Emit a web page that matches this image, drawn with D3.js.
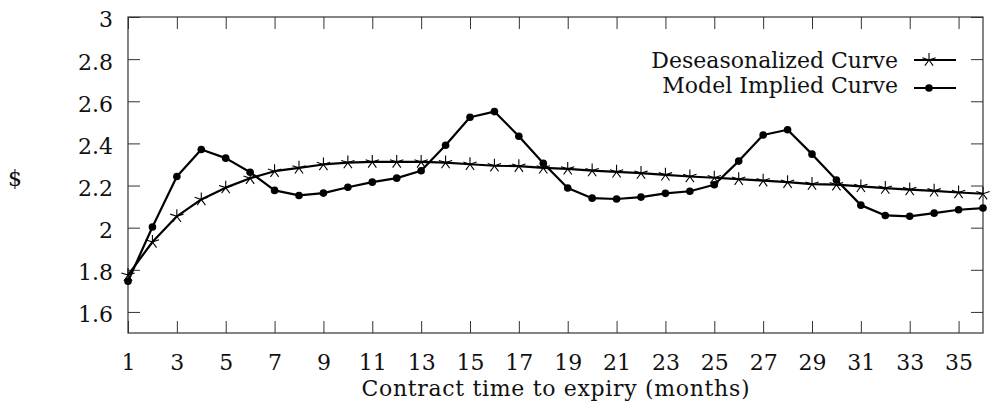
<!DOCTYPE html>
<html>
<head>
<meta charset="utf-8">
<script src="https://cdn.jsdelivr.net/npm/d3@7"></script>
<style>
  body { margin: 0; background: #fff; }
  svg text { font-family: "DejaVu Serif", serif; fill: #111; }
</style>
</head>
<body>
<div id="chart"></div>
<script>
// months 1..36
const months = d3.range(1, 37);

const deseasonalized = [
  1.775, 1.932, 2.054, 2.134, 2.190, 2.235, 2.268, 2.284, 2.300, 2.309,
  2.312, 2.312, 2.312, 2.309, 2.301, 2.294, 2.292, 2.284, 2.279, 2.271,
  2.265, 2.259, 2.251, 2.243, 2.237, 2.230, 2.223, 2.216, 2.207, 2.204,
  2.196, 2.188, 2.181, 2.175, 2.167, 2.161
];

const modelImplied = [
  1.746, 2.003, 2.243, 2.371, 2.330, 2.263, 2.177, 2.153, 2.164, 2.192,
  2.216, 2.235, 2.270, 2.391, 2.524, 2.551, 2.434, 2.306, 2.188, 2.140,
  2.136, 2.145, 2.163, 2.173, 2.204, 2.316, 2.440, 2.465, 2.349, 2.226,
  2.107, 2.058, 2.054, 2.069, 2.085, 2.093
];

const xTicks = d3.range(1, 36, 2);
const yTicks = [1.6, 1.8, 2.0, 2.2, 2.4, 2.6, 2.8, 3.0];
const seriesNames = ['Deseasonalized Curve', 'Model Implied Curve'];

const config = {
  width: 992,
  height: 407,
  plot: { left: 128, right: 983, top: 17, bottom: 333 },
  tickLen: 12,
  fontSize: 22,
  font: '"DejaVu Serif", serif',
};

const svg = d3.select('#chart').append('svg')
  .attr('width', config.width)
  .attr('height', config.height);

const x = d3.scaleLinear().domain([1, 36]).range([config.plot.left, config.plot.right]);
const y = d3.scaleLinear().domain([1.5, 3.0]).range([config.plot.bottom, config.plot.top]);

function styleAxis(g) {
  g.attr('font-family', null).attr('font-size', null);
  g.select('.domain').remove();
  g.selectAll('.tick line').attr('stroke', '#333').attr('stroke-width', 1);
}

function styleLabels(sel) {
  sel.style('font-size', config.fontSize + 'px')
    .style('font-family', config.font)
    .attr('fill', '#111');
}

// bottom axis with labels
const xAxisG = svg.append('g')
  .attr('transform', `translate(0,${config.plot.bottom})`)
  .call(d3.axisBottom(x).tickValues(xTicks).tickSizeInner(-config.tickLen).tickSizeOuter(0).tickFormat(d3.format('d')))
  .call(styleAxis);
xAxisG.selectAll('text')
  .attr('y', 37).attr('dy', 0)
  .call(styleLabels);

// top mirror ticks
svg.append('g')
  .attr('transform', `translate(0,${config.plot.top})`)
  .call(d3.axisTop(x).tickValues(xTicks).tickSizeInner(-config.tickLen).tickSizeOuter(0).tickFormat(''))
  .call(styleAxis);

// left axis with labels
const yAxisG = svg.append('g')
  .attr('transform', `translate(${config.plot.left},0)`)
  .call(d3.axisLeft(y).tickValues(yTicks).tickSizeInner(-config.tickLen).tickSizeOuter(0)
    .tickFormat(d => String(+d.toFixed(1))))
  .call(styleAxis);
yAxisG.selectAll('text')
  .attr('x', -15).attr('dy', '0.45em')
  .call(styleLabels);

// right mirror ticks
svg.append('g')
  .attr('transform', `translate(${config.plot.right},0)`)
  .call(d3.axisRight(y).tickValues(yTicks).tickSizeInner(-config.tickLen).tickSizeOuter(0).tickFormat(''))
  .call(styleAxis);

// frame
svg.append('rect')
  .attr('x', config.plot.left)
  .attr('y', config.plot.top)
  .attr('width', config.plot.right - config.plot.left)
  .attr('height', config.plot.bottom - config.plot.top)
  .attr('fill', 'none')
  .attr('stroke', '#333')
  .attr('stroke-width', 1.2);

// axis titles
svg.append('text')
  .attr('x', (config.plot.left + config.plot.right) / 2)
  .attr('y', 396)
  .attr('text-anchor', 'middle')
  .attr('textLength', 388)
  .attr('lengthAdjust', 'spacing')
  .call(styleLabels)
  .text('Contract time to expiry (months)');

svg.append('text')
  .attr('x', 15)
  .attr('y', 186)
  .attr('text-anchor', 'middle')
  .call(styleLabels)
  .text('$');

// markers
function starPath(r) {
  let p = '';
  for (let k = 0; k < 5; k++) {
    const a = -Math.PI / 2 + k * 2 * Math.PI / 5;
    p += `M0,0L${(r * Math.cos(a)).toFixed(2)},${(r * Math.sin(a)).toFixed(2)}`;
  }
  return p;
}

function drawStar(g, cx, cy) {
  g.append('path')
    .attr('transform', `translate(${cx},${cy})`)
    .attr('d', starPath(7))
    .attr('stroke', '#000')
    .attr('stroke-width', 1.1)
    .attr('fill', 'none');
}

function drawDot(g, cx, cy) {
  g.append('circle')
    .attr('cx', cx).attr('cy', cy).attr('r', 3.8)
    .attr('fill', '#000');
}

const line = d3.line()
  .x((d, i) => x(months[i]))
  .y(d => y(d));

const plotG = svg.append('g');

[deseasonalized, modelImplied].forEach(series => {
  plotG.append('path')
    .datum(series)
    .attr('d', line)
    .attr('fill', 'none')
    .attr('stroke', '#000')
    .attr('stroke-width', 2.2)
    .attr('stroke-linejoin', 'round');
});

deseasonalized.forEach((v, i) => drawStar(plotG, x(months[i]), y(v)));
modelImplied.forEach((v, i) => drawDot(plotG, x(months[i]), y(v)));

// legend
const legendRows = [
  { name: seriesNames[0], lineY: 60, textY: 68, marker: drawStar },
  { name: seriesNames[1], lineY: 88, textY: 93, marker: drawDot },
];
const legendG = svg.append('g');
legendRows.forEach(row => {
  legendG.append('text')
    .attr('x', 898)
    .attr('y', row.textY)
    .attr('text-anchor', 'end')
    .call(styleLabels)
    .text(row.name);
  legendG.append('line')
    .attr('x1', 914).attr('x2', 956)
    .attr('y1', row.lineY).attr('y2', row.lineY)
    .attr('stroke', '#000').attr('stroke-width', 2.2);
  row.marker(legendG, 929, row.lineY);
});
</script>
</body>
</html>
